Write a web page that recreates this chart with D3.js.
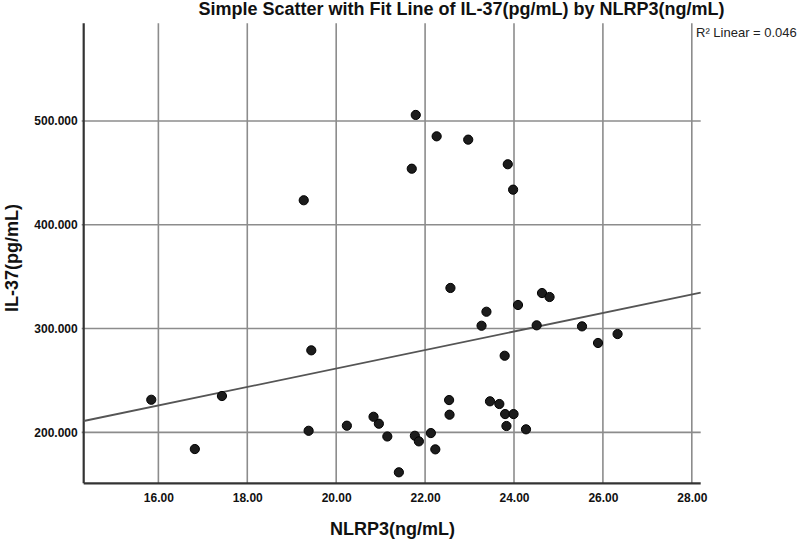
<!DOCTYPE html>
<html>
<head>
<meta charset="utf-8">
<script src="https://cdn.jsdelivr.net/npm/d3@7"></script>
<style>
  body { margin: 0; background: #fff; }
  svg { display: block; font-family: "Liberation Sans", Arial, sans-serif; }
</style>
</head>
<body>
<svg width="800" height="541"></svg>
<script>
// NLRP3 (ng/mL) and IL-37 (pg/mL)
const nlrp3 = [21.79, 22.26, 22.97, 21.70, 23.86, 23.98, 22.57, 24.63, 24.80, 24.09,
               23.38, 23.27, 24.51, 25.53, 26.33, 25.89, 23.79, 22.54, 22.55, 23.46,
               23.67, 23.80, 23.99, 23.83, 24.27, 20.96, 21.15, 21.77, 21.86, 22.13,
               22.23, 21.41, 19.27, 19.44, 15.84, 17.43, 16.82, 19.38, 20.24, 20.84];
const il37 = [505.8, 485.2, 482.0, 454.0, 458.3, 433.8, 339.1, 334.2, 330.4, 322.7,
              316.2, 302.7, 303.1, 302.1, 294.7, 286.1, 273.8, 231.1, 217.0, 229.9,
              227.3, 217.6, 217.6, 206.1, 202.9, 208.3, 196.0, 196.7, 191.3, 199.3,
              183.6, 161.5, 423.6, 279.0, 231.4, 235.0, 183.9, 201.5, 206.4, 215.0];

const xTicks = [16, 18, 20, 22, 24, 26, 28];
const yTicks = [200, 300, 400, 500];

// linear fit shown in the chart
const fitIntercept = 83.4;
const fitSlope = 8.905;
const rSquared = 0.046;

const svg = d3.select("svg");
const margin = { top: 23.3, right: 99.3, bottom: 57.7, left: 83.7 };
const width = 800, height = 541;

const x = d3.scaleLinear().domain([14.32, 28.2]).range([margin.left, width - margin.right]);
const y = d3.scaleLinear().domain([150.9, 594.1]).range([height - margin.bottom, margin.top]);

const gridColor = "#8c8c8c";

// vertical grid lines
svg.append("g")
  .selectAll("line")
  .data(xTicks)
  .join("line")
  .attr("x1", d => x(d)).attr("x2", d => x(d))
  .attr("y1", y.range()[1]).attr("y2", y.range()[0])
  .attr("stroke", gridColor).attr("stroke-width", 1.6);

// horizontal grid lines
svg.append("g")
  .selectAll("line")
  .data(yTicks)
  .join("line")
  .attr("x1", x.range()[0] - 2).attr("x2", x.range()[1])
  .attr("y1", d => y(d)).attr("y2", d => y(d))
  .attr("stroke", gridColor).attr("stroke-width", 1.6);

// x axis
const xAxis = svg.append("g")
  .attr("transform", `translate(0,${y.range()[0]})`)
  .call(d3.axisBottom(x).tickValues(xTicks).tickSize(0).tickPadding(10).tickFormat(d3.format(".2f")));
xAxis.select(".domain").attr("stroke", "#333").attr("stroke-width", 2.2)
  .attr("d", `M${x.range()[0]},0H${x.range()[1]}`);
xAxis.selectAll("text").attr("font-size", 12).attr("font-weight", "bold")
  .attr("fill", "#111").attr("font-family", "Liberation Sans, Arial, sans-serif");

// y axis
const yAxis = svg.append("g")
  .attr("transform", `translate(${x.range()[0]},0)`)
  .call(d3.axisLeft(y).tickValues(yTicks).tickSize(0).tickPadding(6).tickFormat(d3.format(".3f")));
yAxis.select(".domain").attr("stroke", "#333").attr("stroke-width", 2.2)
  .attr("d", `M0,${y.range()[1]}V${y.range()[0]}`);
yAxis.selectAll("text").attr("font-size", 12).attr("font-weight", "bold")
  .attr("fill", "#111").attr("font-family", "Liberation Sans, Arial, sans-serif");

// fit line
const fitX = x.domain();
svg.append("line")
  .attr("x1", x(fitX[0])).attr("y1", y(fitIntercept + fitSlope * fitX[0]))
  .attr("x2", x(fitX[1])).attr("y2", y(fitIntercept + fitSlope * fitX[1]))
  .attr("stroke", "#555").attr("stroke-width", 1.8);

// points
svg.append("g")
  .selectAll("circle")
  .data(nlrp3.map((d, i) => [d, il37[i]]))
  .join("circle")
  .attr("cx", d => x(d[0]))
  .attr("cy", d => y(d[1]))
  .attr("r", 4.6)
  .attr("fill", "#1c1c1c")
  .attr("stroke", "#000")
  .attr("stroke-width", 1);

// title and labels
svg.append("text")
  .attr("x", 461.5).attr("y", 15)
  .attr("text-anchor", "middle")
  .attr("font-size", 18).attr("font-weight", "bold").attr("fill", "#111")
  .text("Simple Scatter with Fit Line of IL-37(pg/mL) by NLRP3(ng/mL)");

svg.append("text")
  .attr("x", 696).attr("y", 37)
  .attr("font-size", 13).attr("fill", "#222")
  .text(`R² Linear = ${rSquared.toFixed(3)}`);

svg.append("text")
  .attr("x", 392.5).attr("y", 535)
  .attr("text-anchor", "middle")
  .attr("font-size", 18).attr("font-weight", "bold").attr("fill", "#111")
  .text("NLRP3(ng/mL)");

svg.append("text")
  .attr("transform", "translate(18,258) rotate(-90)")
  .attr("text-anchor", "middle")
  .attr("font-size", 18).attr("font-weight", "bold").attr("fill", "#111")
  .text("IL-37(pg/mL)");
</script>
</body>
</html>
